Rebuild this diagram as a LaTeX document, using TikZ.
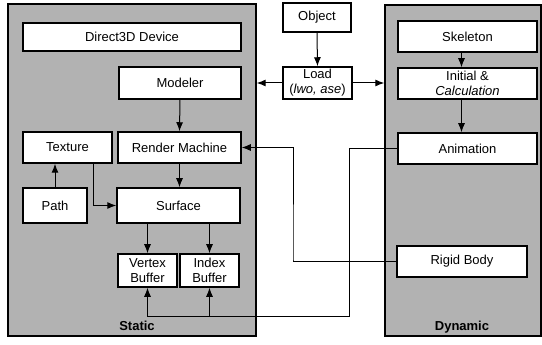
\documentclass[tikz,border=0pt]{standalone}
\usepackage{fontspec}
\setmainfont{Liberation Sans}
\usepackage{tikz}
\usetikzlibrary{arrows.meta,positioning,calc}

\begin{document}
\begin{tikzpicture}[
  x=1pt,y=-1pt,
  font=\fontsize{13}{15}\selectfont,
  panel/.style={draw,fill=black!30,line width=1.4pt,inner sep=0pt},
  box/.style={draw,fill=white,line width=1.5pt,align=center,inner sep=0pt},
  plbl/.style={font=\fontsize{13}{15}\selectfont\bfseries,inner sep=0pt},
  ar/.style={-{Latex[length=9pt,width=7pt]},line width=1pt},
  ln/.style={line width=1pt}
]
\useasboundingbox (0,0) rectangle (542,345);

%%%%%%%%%%%%%%%%%%%%%% panels %%%%%%%%%%%%%%%%%%%%%%%%%%%%%%%%%%%%%%%%%%%%%%
\node[panel,minimum width=248,minimum height=332] (static)  at (132,170) {};
\node[panel,minimum width=156,minimum height=331] (dynamic) at (463,170.5) {};
\node[plbl] (stlbl) at (137,326) {Static};
\node[plbl] (dylbl) at (462,327) {Dynamic};

%%%%%%%%%%%%%%%%%%%%%% static side %%%%%%%%%%%%%%%%%%%%%%%%%%%%%%%%%%%%%%%%%
\node[box,minimum width=218,minimum height=28] (device)  at (132,37)    {Direct3D Device};
\node[box,minimum width=122,minimum height=32] (modeler) at (180,83)    {Modeler};
\node[box,minimum width=89, minimum height=31] (texture) at (67.5,147.5) {Texture};
\node[box,minimum width=123,minimum height=31] (render)  at (179.5,147.5) {Render Machine};
\node[box,minimum width=64, minimum height=35] (path)    at (55,205.5)  {Path};
\node[box,minimum width=123,minimum height=35] (surface) at (178.5,205.5) {Surface};
\node[box,minimum width=59, minimum height=33] (vertex)  at (147.5,270.5) {Vertex\\Buffer};
\node[box,minimum width=59, minimum height=33] (index)   at (209.5,270.5) {Index\\Buffer};

%%%%%%%%%%%%%%%%%%%%%% loader %%%%%%%%%%%%%%%%%%%%%%%%%%%%%%%%%%%%%%%%%%%%%%
\node[box,minimum width=68,minimum height=29] (object) at (317,17.5) {Object};
\node[box,minimum width=69,minimum height=32] (load)   at (317.5,83)  {Load\\(\textit{lwo, ase})};

%%%%%%%%%%%%%%%%%%%%%% dynamic side %%%%%%%%%%%%%%%%%%%%%%%%%%%%%%%%%%%%%%%%
\node[box,minimum width=139,minimum height=31] (skeleton) at (467.5,36.5)  {Skeleton};
\node[box,minimum width=139,minimum height=31] (initial)  at (467.5,83.5)  {Initial \&\\\textit{Calculation}};
\node[box,minimum width=139,minimum height=31] (anim)     at (467.5,148.5) {Animation};
\node[box,minimum width=130,minimum height=31] (rigid)    at (462,261.5)   {Rigid Body};

\coordinate (jA) at (349,316);
\coordinate (jB) at (293,260);

%%%%%%%%%%%%%%%%%%%%%% connectors %%%%%%%%%%%%%%%%%%%%%%%%%%%%%%%%%%%%%%%%%%
\draw[ar] (modeler.south) -- (render.north);
\draw[ar] (render.south) -- (render.south |- surface.north);
\draw[ar] (path.north) -- (path.north |- texture.south);
\draw[ar] ([xshift=25.5pt]texture.south) |- (surface.west);
\draw[ar] (vertex.north |- surface.south) -- (vertex.north);
\draw[ar] (index.north |- surface.south) -- (index.north);

\draw[ar] (object.south) -- (load.north);
\draw[ar] (load.west) -- (load.west -| static.east);
\draw[ar] (load.east) -- (load.east -| dynamic.west);

\draw[ar] ([xshift=-6pt]skeleton.south) -- ([xshift=-6pt]initial.north);
\draw[ar] ([xshift=-6pt]initial.south) -- ([xshift=-6pt]anim.north);

\draw[ar] (anim.west) -| (jA) -| (vertex.south);
\draw[ar] (index.south |- jA) -- (index.south);
\draw[ar] (rigid.west) -| (jB) |- (render.east);
\end{tikzpicture}
\end{document}
